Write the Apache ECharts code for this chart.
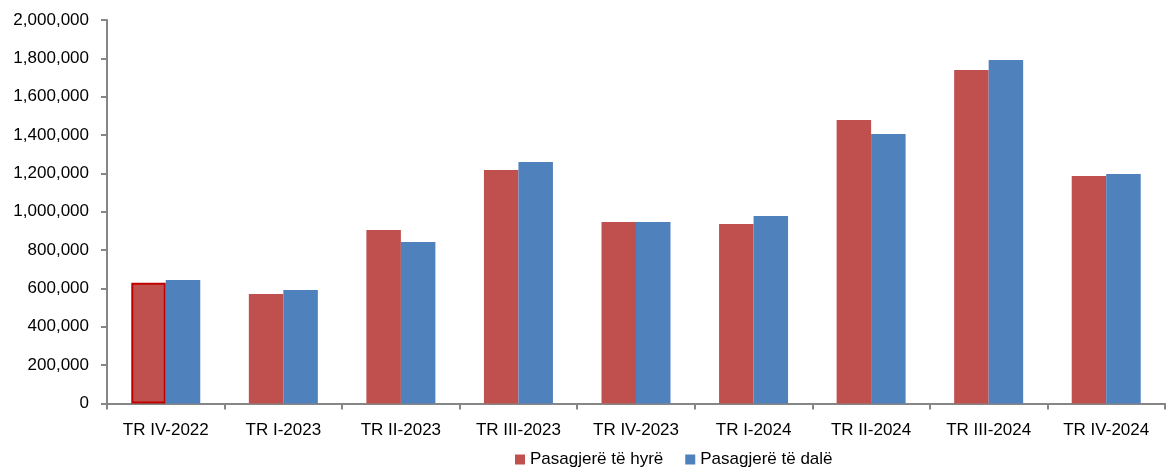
<!DOCTYPE html>
<html>
<head>
<meta charset="utf-8">
<script src="https://cdn.jsdelivr.net/npm/echarts@6/dist/echarts.min.js"></script>
<style>html,body{margin:0;padding:0;background:#fff}#c{width:1167px;height:472px}</style>
</head>
<body>
<div id="c"></div>
<script>
const categories = ['TR IV-2022','TR I-2023','TR II-2023','TR III-2023','TR IV-2023','TR I-2024','TR II-2024','TR III-2024','TR IV-2024'];
const seriesNames = ['Pasagjerë të hyrë','Pasagjerë të dalë'];
const inbound = [630000, 571000, 905000, 1218000, 947000, 936000, 1479000, 1739000, 1186000];
const outbound = [644000, 592000, 842000, 1259000, 947000, 978000, 1406000, 1791000, 1197000];
const yMin = 0, yMax = 2000000, yStep = 200000;

const FONT = '"Liberation Sans",Arial,sans-serif';
const chart = echarts.init(document.getElementById('c'), null, {renderer:'canvas'});
const inboundData = inbound.map((v,i)=> i===0 ? {value:v, itemStyle:{borderColor:'#C00000', borderWidth:2}} : v);
chart.setOption({
  animation:false,
  textStyle:{fontFamily:FONT},
  grid:{left:107, right:2, top:20, bottom:68.5, containLabel:false, outerBoundsMode:'none'},
  legend:{
    data:seriesNames, top:451, left:515, itemWidth:10, itemHeight:10, itemGap:22,
    icon:'rect', padding:[0,0,0,0],
    textStyle:{fontFamily:FONT, fontSize:17, color:'#000'}
  },
  xAxis:{
    type:'category', data:categories, boundaryGap:true,
    axisLine:{lineStyle:{color:'#868686', width:2}},
    axisTick:{show:true, length:6, alignWithLabel:false, lineStyle:{color:'#868686', width:2}},
    axisLabel:{color:'#000', fontFamily:FONT, fontSize:17, margin:18, interval:0}
  },
  yAxis:{
    type:'value', min:yMin, max:yMax, interval:yStep,
    axisLine:{show:true, lineStyle:{color:'#868686', width:2}},
    axisTick:{show:true, length:6, lineStyle:{color:'#868686', width:2}},
    splitLine:{show:false},
    axisLabel:{color:'#000', fontFamily:FONT, fontSize:17, margin:18,
      formatter:v=>v.toLocaleString('en-US')}
  },
  series:[
    {name:seriesNames[0], type:'bar', data:inboundData, itemStyle:{color:'#C0504D'}, barWidth:34.5, barGap:'0%'},
    {name:seriesNames[1], type:'bar', data:outbound, itemStyle:{color:'#4F81BD'}, barWidth:34.5, barGap:'0%'}
  ]
});
</script>
</body>
</html>
